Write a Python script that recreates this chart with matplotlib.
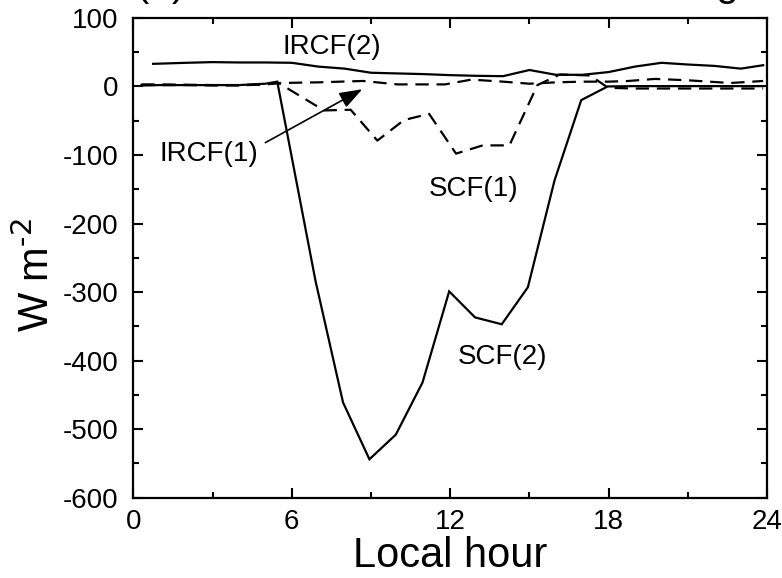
import matplotlib
matplotlib.use("Agg")
import matplotlib.pyplot as plt
from matplotlib.ticker import MultipleLocator

plt.rcParams['font.family'] = ['Liberation Sans', 'DejaVu Sans']
plt.rcParams['mathtext.default'] = 'regular'
plt.rcParams['axes.unicode_minus'] = False

# ---- data ----
hrs_ircf2 = [0.75, 2, 3, 4, 5, 6, 7, 8, 9, 10, 11, 12, 13, 14, 15, 16, 17, 18, 19, 20, 21, 22, 23, 23.85]
ircf2 = [33, 34.5, 35.5, 35, 35, 34.5, 29, 26, 20, 19, 18, 16.5, 15.5, 15, 24, 17, 17, 21, 29, 34.5, 32, 30, 26, 31]

hrs_ircf1 = [0.3, 1, 2, 3, 4, 5, 5.5, 7, 8.7, 10, 11.8, 12.8, 14, 15, 16, 17, 18, 18.75, 19.75, 21, 22.6, 23.85]
ircf1 = [2, 2, 2, 1.5, 1.5, 3, 5, 6, 8, 3, 3, 10, 7, 4, 6, 7, 7, 8, 11, 9, 5, 8]

hrs_scf1 = [0.3, 1, 2, 3, 4, 5, 5.5, 7.22, 8.23, 9.24, 10.25, 11.2, 12.22, 13.23, 14.24, 15.3,
            16.15, 17.3, 17.98, 19, 20, 21, 22, 23, 23.85]
scf1 = [3, 3, 2.5, 2, 2, 3, 5, -35, -34, -79, -49, -40, -98, -86, -86, 2,
        17.5, 16, -2, -3, -3, -3, -3, -3, -3]

hrs_scf2 = [0.3, 1, 2, 3, 4, 5, 5.45, 6.9, 7.94, 8.94, 9.94, 10.95, 11.96, 12.94, 13.95, 14.94,
            15.95, 16.96, 17.96, 19, 20, 21, 22, 23, 23.85]
scf2 = [1.5, 2, 2, 2, 2, 4, 7, -284, -461, -544, -508, -432, -299, -337, -347, -293,
        -137, -20, 0, 0.5, 0.5, 0.5, 0.5, 0.5, 0.5]

x_ticks = [0, 6, 12, 18, 24]
y_ticks = [-600, -500, -400, -300, -200, -100, 0, 100]

fig = plt.figure(figsize=(7.82, 5.78), dpi=100)
ax = fig.add_axes([0.1705, 0.139, 0.8105, 0.830])

lw = 1.6
dash = (0, (6, 3.5))
ax.plot(hrs_ircf2, ircf2, color='black', lw=lw, solid_joinstyle='miter')
ax.plot(hrs_scf2, scf2, color='black', lw=lw, solid_joinstyle='miter')
ax.plot(hrs_ircf1, ircf1, color='black', lw=lw, linestyle=dash)
ax.plot(hrs_scf1, scf1, color='black', lw=lw, linestyle=dash)

ax.set_xlim(0, 24)
ax.set_ylim(-600, 100)
ax.set_xticks(x_ticks)
ax.set_yticks(y_ticks)
ax.xaxis.set_minor_locator(MultipleLocator(3))
ax.yaxis.set_minor_locator(MultipleLocator(50))
ax.tick_params(which='both', direction='in', top=True, right=True, width=1.5, labelsize=20)
ax.tick_params(which='major', length=7)
ax.tick_params(which='minor', length=4)
ax.tick_params(axis='x', pad=8)
ax.tick_params(axis='y', pad=11)
for s in ax.spines.values():
    s.set_linewidth(1.6)

ax.set_xlabel('Local hour', fontsize=30, labelpad=1)
ax.set_ylabel(r'W m$^{\text{-2}}$', fontsize=30, labelpad=3, y=0.465)

# annotations
ax.text(7.5, 58, 'IRCF(2)', fontsize=20, ha='center', va='center')
ax.text(2.85, -99, 'IRCF(1)', fontsize=20, ha='center', va='center')
ax.text(12.9, -150, 'SCF(1)', fontsize=20, ha='center', va='center')
ax.text(13.97, -395, 'SCF(2)', fontsize=20, ha='center', va='center')
ax.annotate('', xy=(8.67, -4), xytext=(5.0, -82),
            arrowprops=dict(arrowstyle='-|>,head_length=1.4,head_width=0.5',
                            color='black', lw=1.2, shrinkA=0, shrinkB=0))

# title, cut off at the top edge as in the reference
fig.text(0.174, 1.007, '(a) Surface cloud radiative forcing', fontsize=29,
         ha='left', va='baseline')

fig.savefig('out.png', dpi=100)
